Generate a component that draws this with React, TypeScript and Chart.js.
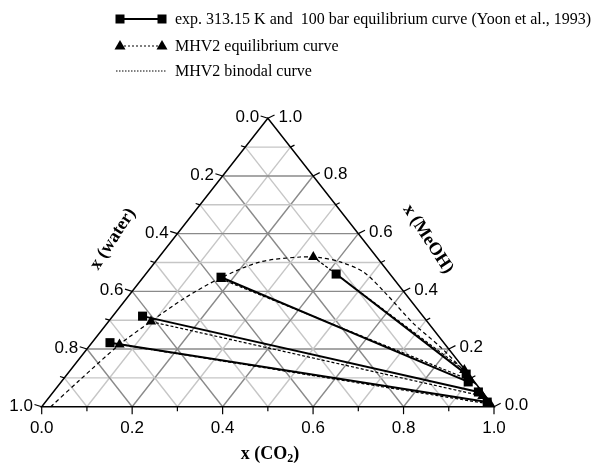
import React, { useEffect, useRef } from "react";
import { Chart, registerables } from "chart.js";
Chart.register(...registerables);

const W = 605;
const H = 463;

// Tie-line ends, mole fractions: L = water-rich phase, R = CO2-rich phase
const expCO2L = [0.421, 0.172, 0.066, 0.040];
const expMeOHL = [0.460, 0.449, 0.314, 0.222];
const expCO2R = [0.882, 0.900, 0.940, 0.977];
const expMeOHR = [0.113, 0.086, 0.051, 0.016];

const mhvCO2L = [0.341, 0.175, 0.094, 0.064];
const mhvMeOHL = [0.519, 0.443, 0.295, 0.216];
const mhvCO2R = [0.871, 0.902, 0.956, 0.987];
const mhvMeOHR = [0.127, 0.092, 0.037, 0.009];

// MHV2 binodal curve
const binCO2 = [0.020, 0.038, 0.064, 0.093, 0.128, 0.172, 0.232, 0.312, 0.357, 0.409, 0.478, 0.563, 0.676, 0.778, 0.876, 0.941, 0.993];
const binMeOH = [0.000, 0.093, 0.214, 0.294, 0.377, 0.446, 0.502, 0.519, 0.517, 0.502, 0.467, 0.394, 0.290, 0.207, 0.120, 0.058, 0.006];

const tickLabels = ["0.0", "0.2", "0.4", "0.6", "0.8", "1.0"];
const legendLabels = [
  "exp. 313.15 K and  100 bar equilibrium curve (Yoon et al., 1993)",
  "MHV2 equilibrium curve",
  "MHV2 binodal curve",
];

const toXY = (co2: number, meoh: number) => ({ x: co2 + meoh / 2, y: meoh });

const SERIF = "'Liberation Serif', 'Times New Roman', serif";
const SANS = "'Liberation Sans', Arial, sans-serif";

const ternaryPlugin = {
  id: "ternary",
  beforeDatasetsDraw(chart: any) {
    const ctx: CanvasRenderingContext2D = chart.ctx;
    const xs = chart.scales.x;
    const ys = chart.scales.y;
    const P = (co2: number, meoh: number) => [
      xs.getPixelForValue(co2 + meoh / 2),
      ys.getPixelForValue(meoh),
    ];
    const seg = (a: number[], b: number[]) => {
      ctx.beginPath();
      ctx.moveTo(a[0], a[1]);
      ctx.lineTo(b[0], b[1]);
      ctx.stroke();
    };
    ctx.save();
    // grid
    for (let i = 1; i <= 9; i++) {
      const t = i / 10;
      ctx.strokeStyle = i % 2 === 0 ? "#8a8a8a" : "#c6c6c6";
      ctx.lineWidth = 1.4;
      seg(P(0, t), P(1 - t, t));
      seg(P(t, 0), P(t, 1 - t));
      seg(P(1 - t, 0), P(0, 1 - t));
    }
    // border
    ctx.strokeStyle = "#000";
    ctx.lineWidth = 1.5;
    ctx.beginPath();
    const a = P(0, 0), b = P(1, 0), c = P(0, 1);
    ctx.moveTo(a[0], a[1]);
    ctx.lineTo(b[0], b[1]);
    ctx.lineTo(c[0], c[1]);
    ctx.closePath();
    ctx.stroke();
    // ticks and labels
    ctx.fillStyle = "#000";
    ctx.font = `17px ${SANS}`;
    ctx.lineWidth = 1.2;
    for (let i = 0; i <= 10; i++) {
      const t = i / 10;
      const major = i % 2 === 0;
      const len = major ? 7.5 : 4.5;
      // left axis: water
      const pl = P(0, 1 - t);
      const dl = [-0.96, -0.3];
      const el = [pl[0] + dl[0] * len, pl[1] + dl[1] * len];
      seg(pl, el);
      // bottom axis: CO2
      const pb = P(t, 0);
      const eb = [pb[0], pb[1] + len];
      seg(pb, eb);
      // right axis: MeOH
      const pr = P(1 - t, t);
      const dr = [0.89, -0.45];
      const er = [pr[0] + dr[0] * len, pr[1] + dr[1] * len];
      seg(pr, er);
      if (major) {
        const lab = tickLabels[i / 2];
        ctx.textBaseline = "middle";
        ctx.textAlign = "right";
        ctx.fillText(lab, el[0] - 1.5, el[1] + 1.5);
        ctx.textAlign = "center";
        ctx.fillText(lab, pb[0], pb[1] + 22);
        ctx.textAlign = "left";
        ctx.fillText(lab, er[0] + 4, er[1] + 2);
      }
    }
    // axis titles
    ctx.font = `bold 18px ${SERIF}`;
    ctx.textAlign = "center";
    ctx.textBaseline = "middle";
    ctx.save();
    ctx.translate(113, 239);
    ctx.rotate((-57 * Math.PI) / 180);
    ctx.fillText("x (water)", 0, 0);
    ctx.restore();
    ctx.save();
    ctx.translate(428, 239);
    ctx.rotate((57 * Math.PI) / 180);
    ctx.fillText("x (MeOH)", 0, 0);
    ctx.restore();
    // x (CO2) with subscript
    const p1 = "x (CO";
    const p3 = ")";
    ctx.font = `bold 18px ${SERIF}`;
    const w1 = ctx.measureText(p1).width;
    const w3 = ctx.measureText(p3).width;
    ctx.font = `bold 12px ${SERIF}`;
    const w2 = ctx.measureText("2").width;
    const total = w1 + w2 + w3;
    const x0 = 270 - total / 2;
    const yb = 459;
    ctx.textAlign = "left";
    ctx.textBaseline = "alphabetic";
    ctx.font = `bold 18px ${SERIF}`;
    ctx.fillText(p1, x0, yb);
    ctx.font = `bold 12px ${SERIF}`;
    ctx.fillText("2", x0 + w1, yb + 3);
    ctx.font = `bold 18px ${SERIF}`;
    ctx.fillText(p3, x0 + w1 + w2, yb);
    ctx.restore();
  },
  afterDraw(chart: any) {
    const ctx: CanvasRenderingContext2D = chart.ctx;
    ctx.save();
    const xa = 120, xb = 162, xt = 175;
    const rows = [19, 46, 71];
    ctx.strokeStyle = "#000";
    ctx.fillStyle = "#000";
    // row 1: solid + squares
    ctx.lineWidth = 2;
    ctx.beginPath();
    ctx.moveTo(xa, rows[0]);
    ctx.lineTo(xb, rows[0]);
    ctx.stroke();
    [xa, xb].forEach((x) => ctx.fillRect(x - 4.5, rows[0] - 4.5, 9, 9));
    // row 2: dotted + triangles
    ctx.lineWidth = 1.2;
    ctx.setLineDash([2, 2]);
    ctx.beginPath();
    ctx.moveTo(xa, rows[1]);
    ctx.lineTo(xb, rows[1]);
    ctx.stroke();
    ctx.setLineDash([]);
    [xa, xb].forEach((x) => {
      ctx.beginPath();
      ctx.moveTo(x, rows[1] - 6);
      ctx.lineTo(x + 5.5, rows[1] + 3.5);
      ctx.lineTo(x - 5.5, rows[1] + 3.5);
      ctx.closePath();
      ctx.fill();
    });
    // row 3: fine dotted
    ctx.lineWidth = 1;
    ctx.setLineDash([1.5, 1.5]);
    ctx.beginPath();
    ctx.moveTo(xa - 4, rows[2]);
    ctx.lineTo(xb + 4, rows[2]);
    ctx.stroke();
    ctx.setLineDash([]);
    ctx.font = `16px ${SERIF}`;
    ctx.textAlign = "left";
    ctx.textBaseline = "middle";
    legendLabels.forEach((l, i) => ctx.fillText(l, xt, rows[i] + 1));
    ctx.restore();
  },
};

export default function App() {
  const ref = useRef<HTMLCanvasElement | null>(null);
  useEffect(() => {
    if (!ref.current) return;
    const datasets: any[] = [];
    for (let i = 0; i < expCO2L.length; i++) {
      datasets.push({
        label: "exp" + i,
        data: [toXY(expCO2L[i], expMeOHL[i]), toXY(expCO2R[i], expMeOHR[i])],
        showLine: true,
        borderColor: "#000",
        backgroundColor: "#000",
        borderWidth: 2,
        pointStyle: "rect",
        pointRadius: 6.4,
        pointBorderWidth: 0,
        clip: false,
      });
    }
    for (let i = 0; i < mhvCO2L.length; i++) {
      datasets.push({
        label: "mhv" + i,
        data: [toXY(mhvCO2L[i], mhvMeOHL[i]), toXY(mhvCO2R[i], mhvMeOHR[i])],
        showLine: true,
        borderColor: "#000",
        backgroundColor: "#000",
        borderWidth: 1.2,
        borderDash: [3, 2],
        pointStyle: "triangle",
        pointRadius: 6,
        pointBorderWidth: 0,
        clip: false,
      });
    }
    datasets.push({
      label: "binodal",
      data: binCO2.map((c, i) => toXY(c, binMeOH[i])),
      showLine: true,
      borderColor: "#000",
      borderWidth: 1.2,
      borderDash: [4, 3],
      tension: 0.3,
      pointRadius: 0,
      clip: false,
    });
    const chart = new Chart(ref.current, {
      type: "scatter",
      data: { datasets },
      options: {
        responsive: false,
        animation: false,
        events: [],
        layout: { padding: { left: 41.7, right: W - 494, top: 118.3, bottom: H - 406.7 } },
        plugins: { legend: { display: false }, tooltip: { enabled: false } },
        scales: {
          x: { type: "linear", min: 0, max: 1, display: false },
          y: { type: "linear", min: 0, max: 1, display: false },
        },
      },
      plugins: [ternaryPlugin],
    });
    return () => chart.destroy();
  }, []);
  return (
    <div style={{ position: "absolute", left: 0, top: 0, width: W, height: H, background: "#fff" }}>
      <canvas ref={ref} width={W} height={H} style={{ width: W, height: H, display: "block" }} />
    </div>
  );
}
